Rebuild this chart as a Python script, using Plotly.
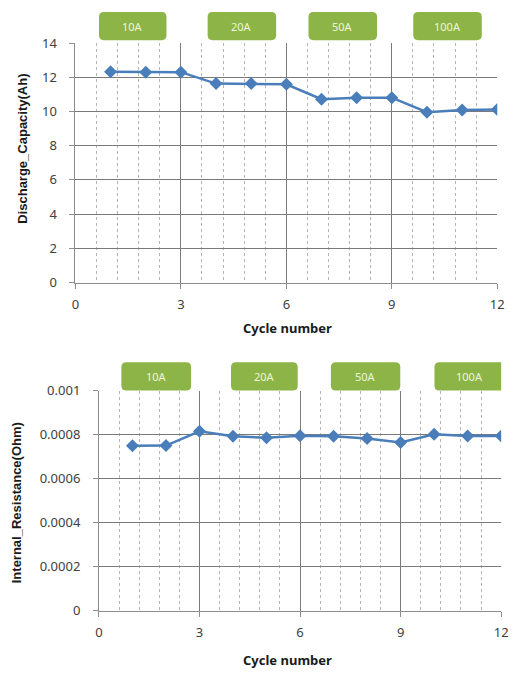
import plotly.graph_objects as go

# Cycle data
cycles = [1, 2, 3, 4, 5, 6, 7, 8, 9, 10, 11, 12]
capacity_ah = [12.33, 12.30, 12.30, 11.63, 11.63, 11.59, 10.72, 10.81, 10.81, 9.96, 10.09, 10.11]
resistance_ohm = [0.000749, 0.000750, 0.000815, 0.000792, 0.000786, 0.000795,
                  0.000792, 0.000782, 0.000764, 0.000801, 0.000793, 0.000793]

# Current-step labels
current_labels = ["10A", "20A", "50A", "100A"]

# Axis ticks
x_ticks = [0, 3, 6, 9, 12]
cap_ticks = [0, 2, 4, 6, 8, 10, 12, 14]
res_ticks = [0, 0.0002, 0.0004, 0.0006, 0.0008, 0.001]
res_tick_text = ["0", "0.0002", "0.0004", "0.0006", "0.0008", "0.001"]

W, H = 516, 677
LINE = "#4A7EBB"
GREEN = "#8DB446"
FONT = "Noto Sans"
AXIS_GREY = "#8c8c8c"

def px_x(p):
    return p / W

def px_y(p):
    return 1 - p / H

fig = go.Figure()
fig.add_trace(go.Scatter(x=cycles, y=capacity_ah, mode="lines+markers",
                         line=dict(color=LINE, width=2.5),
                         marker=dict(symbol="diamond", size=10, color=LINE),
                         xaxis="x", yaxis="y", showlegend=False))
fig.add_trace(go.Scatter(x=cycles, y=resistance_ohm, mode="lines+markers",
                         line=dict(color=LINE, width=2.5),
                         marker=dict(symbol="diamond", size=10, color=LINE),
                         xaxis="x2", yaxis="y2", showlegend=False))

common_x = dict(range=[0, 12], tickvals=x_ticks, showline=True, linecolor=AXIS_GREY,
                ticks="outside", ticklen=5, tickcolor=AXIS_GREY, tickwidth=1,
                ticklabelstandoff=5,
                showgrid=True, gridcolor="#7a7a7a", gridwidth=1,
                minor=dict(dtick=0.6, tick0=0, showgrid=True, gridcolor="#b4b4b4",
                           griddash="dot", gridwidth=1),
                tickfont=dict(family=FONT, size=13, color="#404040"),
                zeroline=False, fixedrange=True)
common_y = dict(showline=True, linecolor=AXIS_GREY, ticks="outside", ticklen=5,
                tickcolor=AXIS_GREY, tickwidth=1, ticklabelstandoff=10,
                showgrid=True, gridcolor="#7a7a7a", gridwidth=1,
                tickfont=dict(family=FONT, size=13, color="#404040"),
                zeroline=False, fixedrange=True)

fig.update_layout(
    width=W, height=H, margin=dict(l=0, r=0, t=0, b=0),
    paper_bgcolor="white", plot_bgcolor="white",
    xaxis=dict(domain=[px_x(73), px_x(504)], anchor="y", **common_x),
    yaxis=dict(domain=[px_y(281), px_y(35)], anchor="x", range=[0, 14],
               tickvals=cap_ticks, **common_y),
    xaxis2=dict(domain=[px_x(97), px_x(508)], anchor="y2", **common_x),
    yaxis2=dict(domain=[px_y(618), px_y(392)], anchor="x2", range=[0, 0.001],
                tickvals=res_ticks, ticktext=res_tick_text, **common_y),
)

def rounded_box(x0, x1, y0, y1, xref, r_px=5, ax_px=35.9):
    rx = r_px / ax_px
    ry = r_px / H
    path = (f"M {x0 + rx},{y0} L {x1 - rx},{y0} Q {x1},{y0} {x1},{y0 + ry} "
            f"L {x1},{y1 - ry} Q {x1},{y1} {x1 - rx},{y1} L {x0 + rx},{y1} "
            f"Q {x0},{y1} {x0},{y1 - ry} L {x0},{y0 + ry} Q {x0},{y0} {x0 + rx},{y0} Z")
    return dict(type="path", path=path, xref=xref, yref="paper",
                fillcolor=GREEN, line=dict(width=0), layer="above")

# Label spans along each x axis (cycle units)
top_spans = [(0.67, 2.59), (3.76, 5.71), (6.63, 8.58), (9.61, 11.56)]
bottom_spans = [(0.67, 2.75), (3.94, 5.93), (6.92, 8.99), (10.01, 12.12)]

label_font = dict(family=FONT, size=11, color="#EEF4DC")
shapes = []
annotations = []
for lab, (a, b) in zip(current_labels, top_spans):
    shapes.append(rounded_box(a, b, px_y(32), px_y(3), "x", ax_px=35.9))
    annotations.append(dict(x=(a + b) / 2, y=(px_y(32) + px_y(3)) / 2, xref="x", yref="paper",
                            xanchor="center", yanchor="middle",
                            text=lab, showarrow=False, font=label_font))
for lab, (a, b) in zip(current_labels, bottom_spans):
    shapes.append(rounded_box(a, b, px_y(392), px_y(363), "x2", ax_px=34.25))
    annotations.append(dict(x=(a + b) / 2, y=(px_y(392) + px_y(363)) / 2, xref="x2", yref="paper",
                            xanchor="center", yanchor="middle",
                            text=lab, showarrow=False, font=label_font))

title_font = dict(family="Liberation Sans", size=13, color="#1a1a1a")
annotations += [
    dict(x=px_x(290), y=px_y(328), xref="paper", yref="paper", text="<b>Cycle number</b>",
         xanchor="center", yanchor="middle",
         showarrow=False, font=dict(family=FONT, size=13, color="#1a1a1a")),
    dict(x=px_x(290), y=px_y(669), xref="paper", yref="paper", text="<b>Cycle number</b>",
         xanchor="center", yanchor="middle",
         showarrow=False, font=dict(family=FONT, size=13, color="#1a1a1a")),
    dict(x=px_x(19), y=px_y(144), xref="paper", yref="paper",
         xanchor="center", yanchor="middle",
         text="<b>Discharge_Capacity(Ah)</b>", textangle=-90, showarrow=False, font=title_font),
    dict(x=px_x(13), y=px_y(507), xref="paper", yref="paper",
         xanchor="center", yanchor="middle",
         text="<b>Internal_Resistance(Ohm)</b>", textangle=-90, showarrow=False, font=title_font),
]

fig.update_layout(shapes=shapes, annotations=annotations)
fig.write_html("out.html")
